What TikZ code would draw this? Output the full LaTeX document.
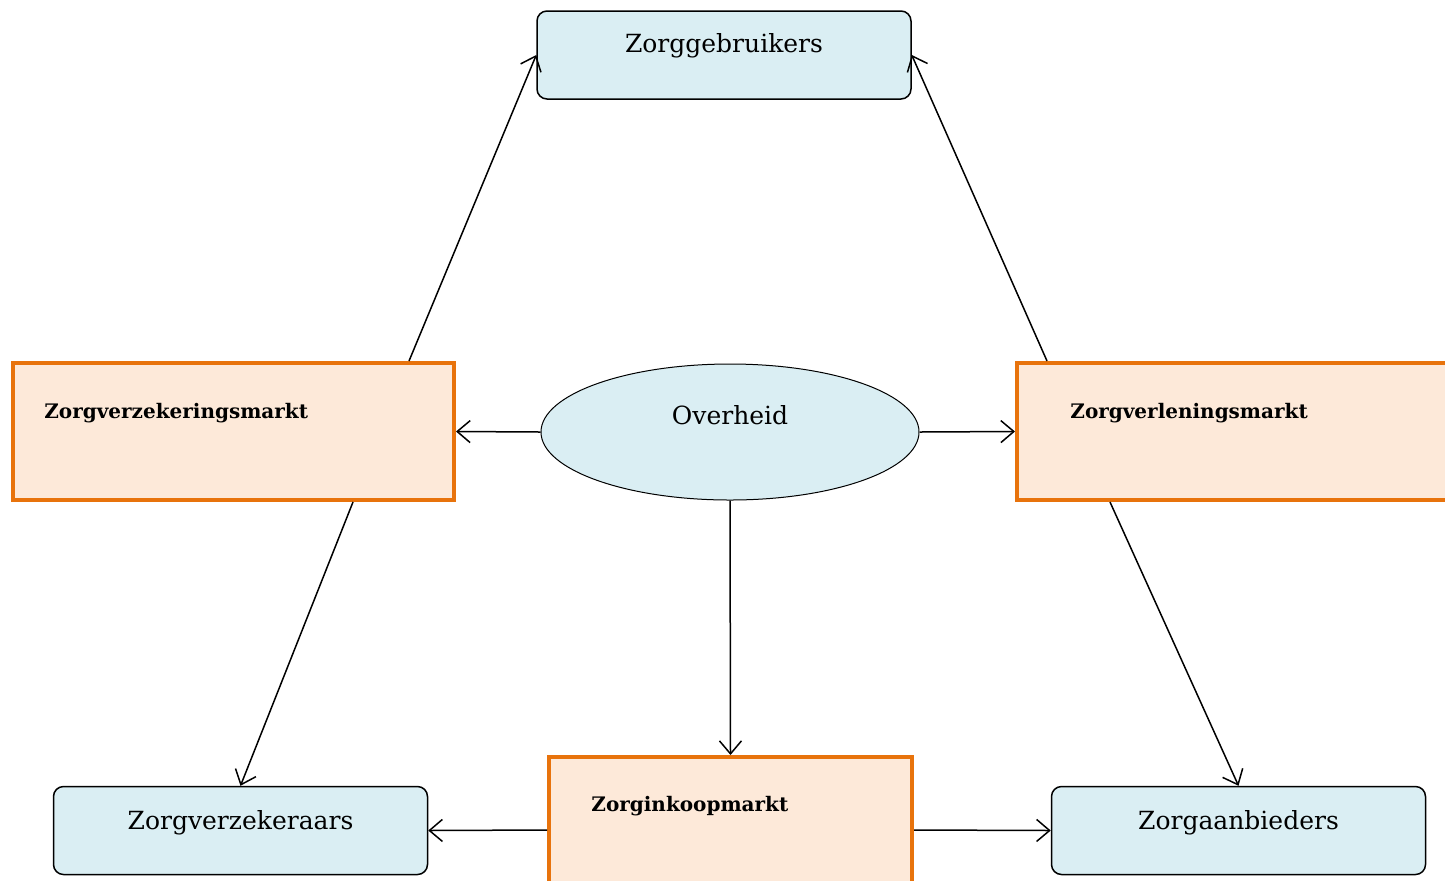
\documentclass[tikz,border=0pt]{standalone}
\usepackage{fontspec}
\setmainfont{DejaVu Serif}
\usetikzlibrary{arrows.meta,calc,shapes.geometric}
\definecolor{bluefill}{HTML}{DAEEF3}
\definecolor{orangeline}{HTML}{E8730C}
\definecolor{orangefill}{HTML}{FDE9D9}
\tikzset{
  actor/.style={draw=black,line width=0.75pt,fill=bluefill,rounded corners=5pt,minimum width=187pt,minimum height=44pt,inner sep=0pt},
  market/.style={draw=orangeline,line width=2pt,fill=orangefill,inner sep=0pt},
  gov/.style={draw=black,line width=0.5pt,fill=bluefill,ellipse,minimum width=189pt,minimum height=68pt,inner sep=0pt},
  actortext/.style={font=\fontsize{12.5}{14}\selectfont,inner sep=0pt},
  markettext/.style={font=\fontsize{10}{12}\selectfont\bfseries,inner sep=0pt,anchor=west},
  arr/.style={line width=0.75pt,-{Straight Barb[length=6.5pt,width=11pt,line width=0.75pt]}}
}
\begin{document}
\begin{tikzpicture}[x=0.5pt,y=-0.5pt]
\useasboundingbox (0,0) rectangle (1445,880);
\clip (0,0) rectangle (1445,880);
% actors
\node[actor] (zg) at (724,55) {};
\node[actortext] (zgt) at (724,46) {Zorggebruikers};
\node[actor] (zvk) at (240.5,830.5) {};
\node[actortext] (zvkt) at (240.5,823) {Zorgverzekeraars};
\node[actor] (za) at (1238.5,830.5) {};
\node[actortext] (zat) at (1238.5,823) {Zorgaanbieders};
% markets
\node[market,minimum width=220.5pt,minimum height=68.5pt] (zvm) at (233.5,431.5) {};
\node[markettext] (zvmt) at (44,413) {Zorgverzekeringsmarkt};
\node[market,minimum width=229pt,minimum height=68.5pt] (zvl) at (1246,431.5) {};
\node[markettext] (zvlt) at (1070,413) {Zorgverleningsmarkt};
\node[market,minimum width=181.5pt,minimum height=73pt] (zik) at (730.5,830) {};
\node[markettext] (zikt) at (591,806) {Zorginkoopmarkt};
% government
\node[gov] (ov) at (730,432) {};
\node[actortext] (ovt) at (730,415) {Overheid};
% connectors
\draw[arr] ($(zvm.north west)+(398,0)$) -- (zg.west);
\draw[arr] ($(zvl.north west)+(32,0)$) -- (zg.east);
\draw[arr] (ov.west) -- (zvm.east);
\draw[arr] (ov.east) -- (zvl.west);
\draw[arr] (ov.south) -- (zik.north);
\draw[arr] ($(zvm.south west)+(342,0)$) -- (zvk.north);
\draw[arr] ($(zvl.south west)+(95,0)$) -- (za.north);
\draw[arr] (zik.west) -- (zvk.east);
\draw[arr] (zik.east) -- (za.west);
\end{tikzpicture}
\end{document}
